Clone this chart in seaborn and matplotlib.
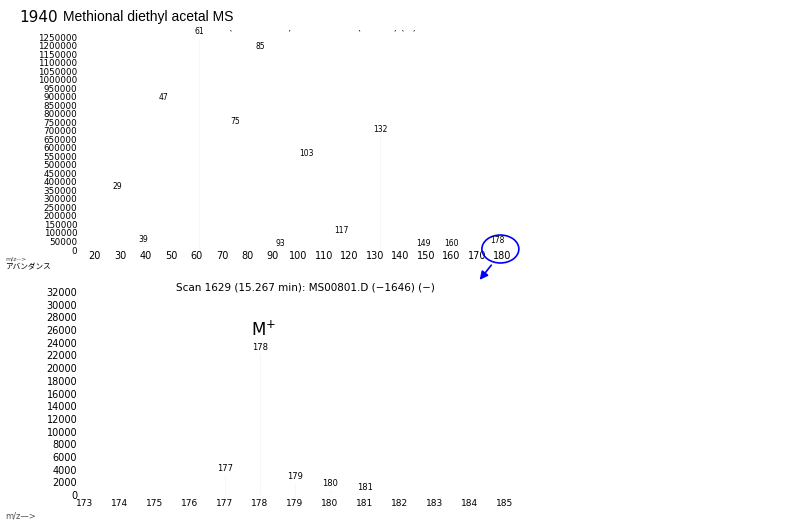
import numpy as np
import pandas as pd
import matplotlib
matplotlib.use("Agg")
import matplotlib.pyplot as plt
import seaborn as sns
from matplotlib.patches import Ellipse

# full scan spectrum (m/z, abundance)
full_mz = [29, 39, 47, 61, 75, 85, 93, 103, 117, 132, 149, 160, 178]
full_abund = [340000, 29000, 863000, 1245000, 722000, 1162000, 3000,
              534000, 82000, 675000, 3000, 3000, 22400]

# zoomed region around the molecular ion
zoom_mz = [177, 178, 179, 180, 181]
zoom_abund = [3300, 22400, 2050, 950, 200]

top_yticks = list(range(0, 1250001, 50000))
top_xticks = list(range(20, 181, 10))
low_yticks = list(range(0, 32001, 2000))
low_xticks = list(range(173, 186))

scan_text = "Scan 1629 (15.267 min): MS00801.D (\u22121646) (\u2212)"

sns.set_style("white")
plt.rcParams["font.family"] = ["DejaVu Sans", "Noto Sans CJK JP"]
plt.rcParams["text.color"] = "black"
plt.rcParams["xtick.color"] = "black"
plt.rcParams["ytick.color"] = "black"

fig = plt.figure(figsize=(8, 5.25), dpi=100)
ax1 = fig.add_axes([0.1, 0.5238, 0.55, 0.419])
ax2 = fig.add_axes([0.1, 0.0571, 0.55, 0.4])

bar_col = "#f3f3f3"

# top panel
df1 = pd.DataFrame({"mz": full_mz, "abund": full_abund})
sns.barplot(data=df1, x="mz", y="abund", native_scale=True, width=0.06,
            color=bar_col, ax=ax1)
ax1.set_xlim(14.3, 186.9)
ax1.set_ylim(0, 1291000)
ax1.set_xticks(top_xticks)
ax1.set_xticklabels([str(t) for t in top_xticks], fontsize=7)
ax1.set_yticks(top_yticks)
ax1.set_yticklabels([str(t) for t in top_yticks], fontsize=6.3)
ax1.tick_params(axis="x", length=0, pad=0.5)
ax1.tick_params(axis="y", length=0, pad=2)
for m, a in zip(full_mz, full_abund):
    ax1.annotate(str(m), (m, a), xytext=(0, 1), textcoords="offset points",
                 ha="center", va="bottom", fontsize=5.5)
# header of the upper scan, mostly cut off by the panel edge
ax1.text(98.6, 1282000, "Scan 1628 (15.267 min): MS00801.D (\u22121646) (\u2212)",
         ha="center", va="bottom", fontsize=7, clip_on=True)

# circle + arrow around the molecular ion
ax1.add_patch(Ellipse((179.2, 5869), 14.5, 164000, fill=False, ec="blue",
                      lw=1.2, clip_on=False))
ax1.annotate("", xy=(170.4, -188000), xytext=(176.3, -76300),
             arrowprops=dict(arrowstyle="-|>", color="blue", lw=1.2,
                             mutation_scale=12),
             annotation_clip=False)

# bottom panel
df2 = pd.DataFrame({"mz": zoom_mz, "abund": zoom_abund})
sns.barplot(data=df2, x="mz", y="abund", native_scale=True, width=0.05,
            color=bar_col, ax=ax2)
ax2.set_xlim(172.86, 185.43)
ax2.set_ylim(0, 33100)
ax2.set_xticks(low_xticks)
ax2.set_xticklabels([str(t) for t in low_xticks], fontsize=6.5)
ax2.set_yticks(low_yticks)
ax2.set_yticklabels([str(t) for t in low_yticks], fontsize=7)
ax2.tick_params(axis="x", length=0, pad=3)
ax2.tick_params(axis="y", length=0, pad=2)
for m, a in zip(zoom_mz, zoom_abund):
    ax2.annotate(str(m), (m, a), xytext=(0, 1), textcoords="offset points",
                 ha="center", va="bottom", fontsize=6)
ax2.text(178.1, 26000, "M$^{+}$", ha="center", va="center", fontsize=12)

for ax in (ax1, ax2):
    ax.set_xlabel("")
    ax.set_ylabel("")
    sns.despine(ax=ax, left=True, bottom=True)

# titles and axis captions
fig.text(19 / 800, 1 - 17 / 525, "1940", fontsize=11, va="center",
         family=["Liberation Sans Narrow", "DejaVu Sans"])
fig.text(63 / 800, 1 - 17 / 525, "Methional diethyl acetal MS", fontsize=10,
         va="center", family=["Liberation Sans", "DejaVu Sans"])
fig.text(305 / 800, 1 - 287 / 525, scan_text, fontsize=7.5, ha="center", va="center")
fig.text(5 / 800, 1 - 259 / 525, "m/z-->", fontsize=4.5, va="center", color="#444444")
fig.text(5 / 800, 1 - 267 / 525, "アバンダンス", fontsize=5.5, va="center",
         family=["Noto Sans CJK JP", "DejaVu Sans"])
fig.text(5 / 800, 1 - 516 / 525, "m/z\u2014>", fontsize=6, va="center", color="#555555")

fig.savefig("out.png", dpi=100)
